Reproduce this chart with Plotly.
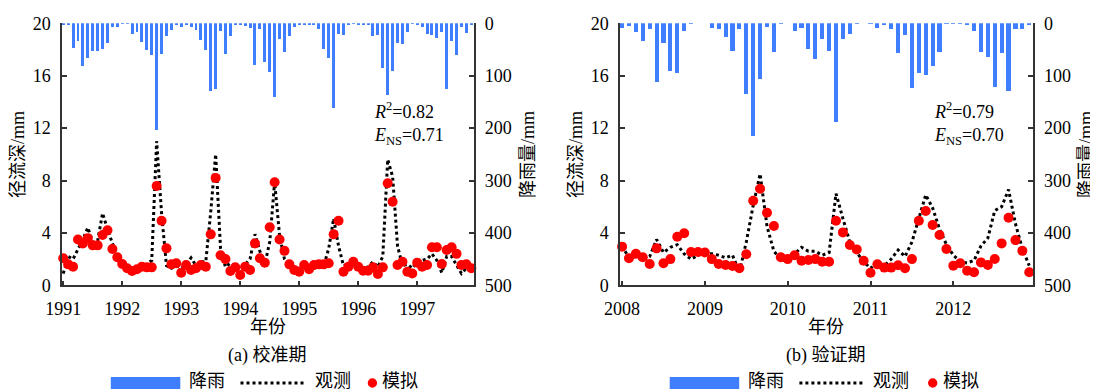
import plotly.graph_objects as go

# the page body keeps its default 8px margin, so the figure is 8px smaller
OFF = 8
W, H = 1098 - OFF, 390 - OFF

# ---------------- data ----------------
years_cal = ["1991", "1992", "1993", "1994", "1995", "1996", "1997"]
years_val = ["2008", "2009", "2010", "2011", "2012"]

# monthly rainfall (mm), calibration 1991-1997
rain_cal = [2, 4, 48, 34, 83, 66, 53, 54, 49, 39, 8, 8,
            1, 1, 21, 18, 37, 51, 61, 205, 60, 24, 13, 2,
            8, 4, 8, 13, 32, 51, 129, 125, 16, 59, 25, 2,
            2, 6, 10, 81, 11, 75, 93, 141, 31, 56, 24, 7,
            2, 2, 2, 3, 12, 49, 66, 162, 21, 23, 2, 1,
            2, 3, 3, 25, 22, 86, 138, 91, 39, 40, 18, 1,
            3, 8, 21, 23, 29, 18, 126, 35, 61, 7, 20, 4]
# observed runoff depth (mm)
obs_cal = [0.9, 2.2, 2.0, 2.7, 3.5, 4.4, 3.3, 3.4, 5.5, 4.3, 3.2, 2.3,
           1.6, 1.3, 1.2, 1.3, 1.5, 1.6, 1.9, 11.0, 5.5, 1.5, 1.3, 1.5,
           1.3, 1.6, 2.1, 1.5, 1.8, 1.8, 5.6, 10.0, 2.8, 1.4, 1.7, 1.5,
           1.2, 1.6, 2.0, 3.9, 2.6, 1.6, 3.3, 7.9, 3.8, 2.0, 1.5, 1.3,
           1.3, 1.5, 1.4, 1.3, 1.4, 1.5, 2.8, 5.1, 3.0, 1.5, 1.6, 1.4,
           1.2, 1.3, 1.4, 1.8, 1.4, 2.2, 9.6, 8.3, 3.0, 1.5, 1.6, 1.3,
           1.8, 1.9, 2.0, 2.4, 1.9, 0.95, 2.2, 2.2, 1.6, 0.9, 1.3, 1.5]
# simulated runoff depth (mm)
sim_cal = [2.06, 1.6, 1.42, 3.5, 3.2, 3.6, 3.05, 3.05, 3.84, 4.2, 2.77, 2.14,
           1.63, 1.3, 1.09, 1.22, 1.42, 1.37, 1.37, 7.58, 4.93, 2.82, 1.6, 1.68,
           0.96, 1.55, 1.17, 1.3, 1.55, 1.42, 3.89, 8.2, 2.29, 2.0, 1.09, 1.37,
           0.79, 1.42, 1.17, 3.2, 2.06, 1.73, 4.43, 7.86, 3.5, 2.63, 1.6, 1.17,
           1.04, 1.55, 1.22, 1.55, 1.6, 1.6, 1.68, 3.89, 4.93, 1.04, 1.42, 1.8,
           1.42, 1.12, 1.12, 1.37, 0.86, 1.37, 7.79, 6.38, 1.55, 1.8, 1.04, 0.9,
           1.73, 1.42, 1.55, 2.9, 2.9, 1.63, 2.7, 2.9, 2.4, 1.55, 1.6, 1.3]

# validation 2008-2012
rain_val = [10, 5, 18, 35, 11, 112, 39, 91, 96, 15, 1, 0,
            0, 9, 11, 27, 53, 11, 136, 215, 106, 8, 55, 1,
            0, 15, 9, 49, 68, 31, 53, 188, 31, 21, 1, 0,
            1, 9, 2, 11, 58, 23, 124, 96, 99, 83, 55, 1,
            1, 1, 2, 15, 55, 65, 123, 58, 129, 12, 12, 3]
obs_val = [3.0, 2.1, 2.2, 1.9, 2.2, 3.5, 2.5, 2.9, 3.1, 2.4, 2.0, 2.3,
           2.4, 2.4, 2.3, 2.1, 2.3, 1.0, 3.3, 6.1, 8.5, 4.5, 2.6, 2.0,
           1.8, 2.4, 2.9, 2.6, 2.6, 2.3, 2.5, 7.0, 5.1, 3.3, 2.5, 1.8,
           1.3, 1.7, 1.5, 2.0, 2.7, 2.2, 3.3, 5.1, 6.9, 5.9, 4.3, 3.1,
           2.3, 1.8, 1.7, 1.9, 3.0, 3.6, 5.7, 6.0, 7.3, 4.7, 2.8, 1.5]
sim_val = [2.95, 2.06, 2.4, 2.14, 1.63, 2.82, 1.68, 2.0, 3.71, 3.97, 2.54, 2.54,
           2.5, 2.0, 1.63, 1.55, 1.47, 1.3, 2.37, 6.46, 7.37, 5.54, 4.53, 2.14,
           2.0, 2.3, 1.88, 1.93, 2.0, 1.8, 1.8, 4.93, 4.04, 3.07, 2.74, 1.88,
           0.96, 1.6, 1.35, 1.35, 1.53, 1.3, 2.0, 4.93, 5.67, 4.6, 3.84, 2.77,
           1.5, 1.68, 1.12, 1.0, 1.75, 1.55, 2.01, 3.2, 5.16, 3.45, 2.63, 1.0]

month_cal = list(range(len(rain_cal)))
month_val = list(range(len(rain_val)))

rain_ticks = [0, 100, 200, 300, 400, 500]
runoff_ticks = [0, 4, 8, 12, 16, 20]

# ---------------- styling ----------------
BLUE = "#3f7fff"
AX = "#333333"
FONT = "Liberation Serif, Noto Sans CJK SC, serif"
FS = 18


def px(x):
    return (x - OFF) / W


def py(y):
    return 1 - (y - OFF) / H


Y_DOM = [py(285.3), py(23.3)]

fig = go.Figure()

panels = [
    ("x", "y", "y2", month_cal, rain_cal, obs_cal, sim_cal),
    ("x2", "y3", "y4", month_val, rain_val, obs_val, sim_val),
]
for xa, ya_rain, ya_run, months, rain, obs, sim in panels:
    fig.add_trace(go.Bar(x=months, y=rain, xaxis=xa, yaxis=ya_rain, width=0.6,
                         marker=dict(color=BLUE, line=dict(width=0)),
                         showlegend=False))
    fig.add_trace(go.Scatter(x=months, y=obs, xaxis=xa, yaxis=ya_run, mode="lines",
                             line=dict(color="black", width=3, dash="dot"),
                             cliponaxis=False, showlegend=False))
    fig.add_trace(go.Scatter(x=months, y=sim, xaxis=xa, yaxis=ya_run, mode="markers",
                             marker=dict(color="red", size=10, line=dict(width=0)),
                             cliponaxis=False, showlegend=False))

common_axis = dict(showline=True, linecolor=AX, linewidth=1.5, ticks="inside",
                   tickcolor=AX, tickwidth=1.5, ticklen=5, showgrid=False,
                   zeroline=False, automargin=False,
                   tickfont=dict(family=FONT, size=FS, color="black"))


def xaxis(dom, rng, labels, anchor):
    return dict(domain=dom, range=rng, anchor=anchor,
                tickvals=[12 * k for k in range(len(labels))], ticktext=labels,
                ticklabelstandoff=6, **common_axis)


def rain_axis(anchor):
    return dict(domain=Y_DOM, range=[500, 0], side="right", anchor=anchor,
                tickvals=rain_ticks, ticklabelstandoff=6, **common_axis)


def run_axis(over, anchor):
    return dict(overlaying=over, range=[0, 20], side="left", anchor=anchor,
                tickvals=runoff_ticks, ticklabelstandoff=6, **common_axis)


fig.update_layout(
    template="none",
    width=W, height=H, autosize=False,
    margin=dict(l=0, r=0, t=0, b=0, pad=0),
    paper_bgcolor="white", plot_bgcolor="rgba(0,0,0,0)",
    bargap=0,
    font=dict(family=FONT, size=FS, color="black"),
    xaxis=xaxis([px(62), px(473.5)], [-0.25, 83.45], years_cal, "y"),
    yaxis=rain_axis("x"),
    yaxis2=run_axis("y", "x"),
    xaxis2=xaxis([px(620), px(1032.7)], [-0.3, 59.5], years_val, "y3"),
    yaxis3=rain_axis("x2"),
    yaxis4=run_axis("y3", "x2"),
)

ann = []


def text(x, y, s, angle=0, xanchor="center", size=FS):
    ann.append(dict(x=px(x), y=py(y), xref="paper", yref="paper", text=s,
                    showarrow=False, textangle=angle, xanchor=xanchor,
                    yanchor="middle", align="left",
                    font=dict(family=FONT, size=size, color="black")))


# axis titles
text(18, 155, "径流深/mm", angle=-90)
text(528, 155, "降雨量/mm", angle=-90)
text(576, 155, "径流深/mm", angle=-90)
text(1086, 155, "降雨量/mm", angle=-90)
text(268, 327, "年份")
text(826, 327, "年份")
text(267, 355, "(a) 校准期")
text(826, 355, "(b) 验证期")

# statistics
text(372, 123, "<i>R</i><sup>2</sup>=0.82<br><i>E</i><sub>NS</sub>=0.71", xanchor="left")
text(932, 123, "<i>R</i><sup>2</sup>=0.79<br><i>E</i><sub>NS</sub>=0.70", xanchor="left")

# legends (drawn below each panel)
shapes = []
for x_rect, x_line, x_dot in [(110.8, 240.5, 372.4), (669.7, 799.4, 932.7)]:
    shapes.append(dict(type="rect", xref="paper", yref="paper",
                       x0=px(x_rect), x1=px(x_rect + 69.5), y0=py(389), y1=py(377),
                       fillcolor=BLUE, line=dict(width=0)))
    shapes.append(dict(type="line", xref="paper", yref="paper",
                       x0=px(x_line), x1=px(x_line + 66), y0=py(383), y1=py(383),
                       line=dict(color="black", width=3, dash="dot")))
    shapes.append(dict(type="circle", xref="paper", yref="paper",
                       x0=px(x_dot - 4.7), x1=px(x_dot + 4.7), y0=py(387.7), y1=py(378.3),
                       fillcolor="red", line=dict(width=0)))
    text(x_rect + 76, 381, "降雨", xanchor="left")
    text(x_line + 72, 381, "观测", xanchor="left")
    text(x_dot + 8, 381, "模拟", xanchor="left")

fig.update_layout(annotations=ann, shapes=shapes)
fig.write_html("out.html")
